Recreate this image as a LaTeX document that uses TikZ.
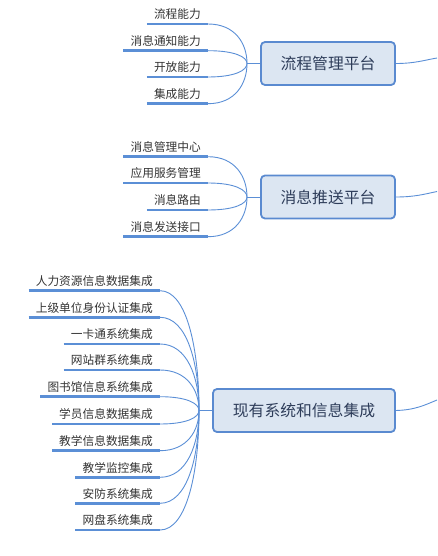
\documentclass[tikz,border=0pt]{standalone}
\usepackage{fontspec}
\setmainfont{Noto Sans CJK SC}
\usetikzlibrary{calc}
\definecolor{lineblue}{HTML}{5B8FD6}
\definecolor{boxfill}{HTML}{DCE6F2}
\definecolor{boxdraw}{HTML}{5A8AD0}
\definecolor{boxtext}{HTML}{2E3D5A}
\definecolor{leaftext}{HTML}{333333}
\tikzset{
  leaf/.style={anchor=south east, inner xsep=7pt, inner ysep=3pt, text height=9.5pt, text depth=2pt,
    font=\fontsize{11.7pt}{13pt}\selectfont, text=leaftext},
  uline/.style={draw=lineblue, line width=2.6pt},
  conn/.style={draw=lineblue, line width=0.9pt},
  stub/.style={draw=lineblue, line width=1.6pt},
  topic/.style={draw=boxdraw, fill=boxfill, line width=1.8pt, rounded corners=4pt,
    minimum height=43pt, text=boxtext, font=\fontsize{15.8pt}{18pt}\selectfont, inner sep=0pt},
}
\newcommand{\leafconn}[2]{%
  \draw[uline] (#1.south west) -- (#1.south east);
  \draw[conn] (#1.south east) .. controls ($(#1.south east)!0.7!(#2 |- #1.south east)$) and ($(#2)!0.5!(#2 |- #1.south east)$) .. (#2);
}
\begin{document}
\begin{tikzpicture}[x=1pt,y=-1pt]
\useasboundingbox (0,0) rectangle (437,556);
% group 1
\node[topic, minimum width=134pt] (t1) at (328,63.5) {流程管理平台};
\coordinate (j1) at (247,63.5);
\node[leaf] (a1) at (208,24) {流程能力};
\node[leaf] (a2) at (208,50.7) {消息通知能力};
\node[leaf] (a3) at (208,77) {开放能力};
\node[leaf] (a4) at (208,103.7) {集成能力};
\foreach \n in {a1,a2,a3,a4} {\leafconn{\n}{j1}}
\draw[stub] (j1) -- (t1.west);
\coordinate (p1) at (437,58);
\draw[conn] (t1.east) .. controls (415,63.5) and (425,60) .. (p1);
% group 2
\node[topic, minimum width=134pt] (t2) at (328,197) {消息推送平台};
\coordinate (j2) at (247,197);
\node[leaf] (b1) at (208,156.7) {消息管理中心};
\node[leaf] (b2) at (208,183) {应用服务管理};
\node[leaf] (b3) at (208,210) {消息路由};
\node[leaf] (b4) at (208,236.7) {消息发送接口};
\foreach \n in {b1,b2,b3,b4} {\leafconn{\n}{j2}}
\draw[conn] (j2) -- (t2.west);
\coordinate (p2) at (437,191.5);
\draw[conn] (t2.east) .. controls (415,197) and (425,194) .. (p2);
% group 3
\node[topic, minimum width=182pt] (t3) at (304,410.5) {现有系统和信息集成};
\coordinate (j3) at (199,410.5);
\node[leaf] (c1) at (160,290.7) {人力资源信息数据集成};
\node[leaf] (c2) at (160,317.3) {上级单位身份认证集成};
\node[leaf] (c3) at (160,344) {一卡通系统集成};
\node[leaf] (c4) at (160,370) {网站群系统集成};
\node[leaf] (c5) at (160,396.7) {图书馆信息系统集成};
\node[leaf] (c6) at (160,424) {学员信息数据集成};
\node[leaf] (c7) at (160,450.7) {教学信息数据集成};
\node[leaf] (c8) at (160,477.3) {教学监控集成};
\node[leaf] (c9) at (160,503.3) {安防系统集成};
\node[leaf] (c10) at (160,530) {网盘系统集成};
\foreach \n in {c1,c2,c3,c4,c5,c6,c7,c8,c9,c10} {\leafconn{\n}{j3}}
\draw[stub] (j3) -- (t3.west);
\coordinate (p3) at (437,400);
\draw[conn] (t3.east) .. controls (415,410) and (425,405) .. (p3);
\end{tikzpicture}
\end{document}
